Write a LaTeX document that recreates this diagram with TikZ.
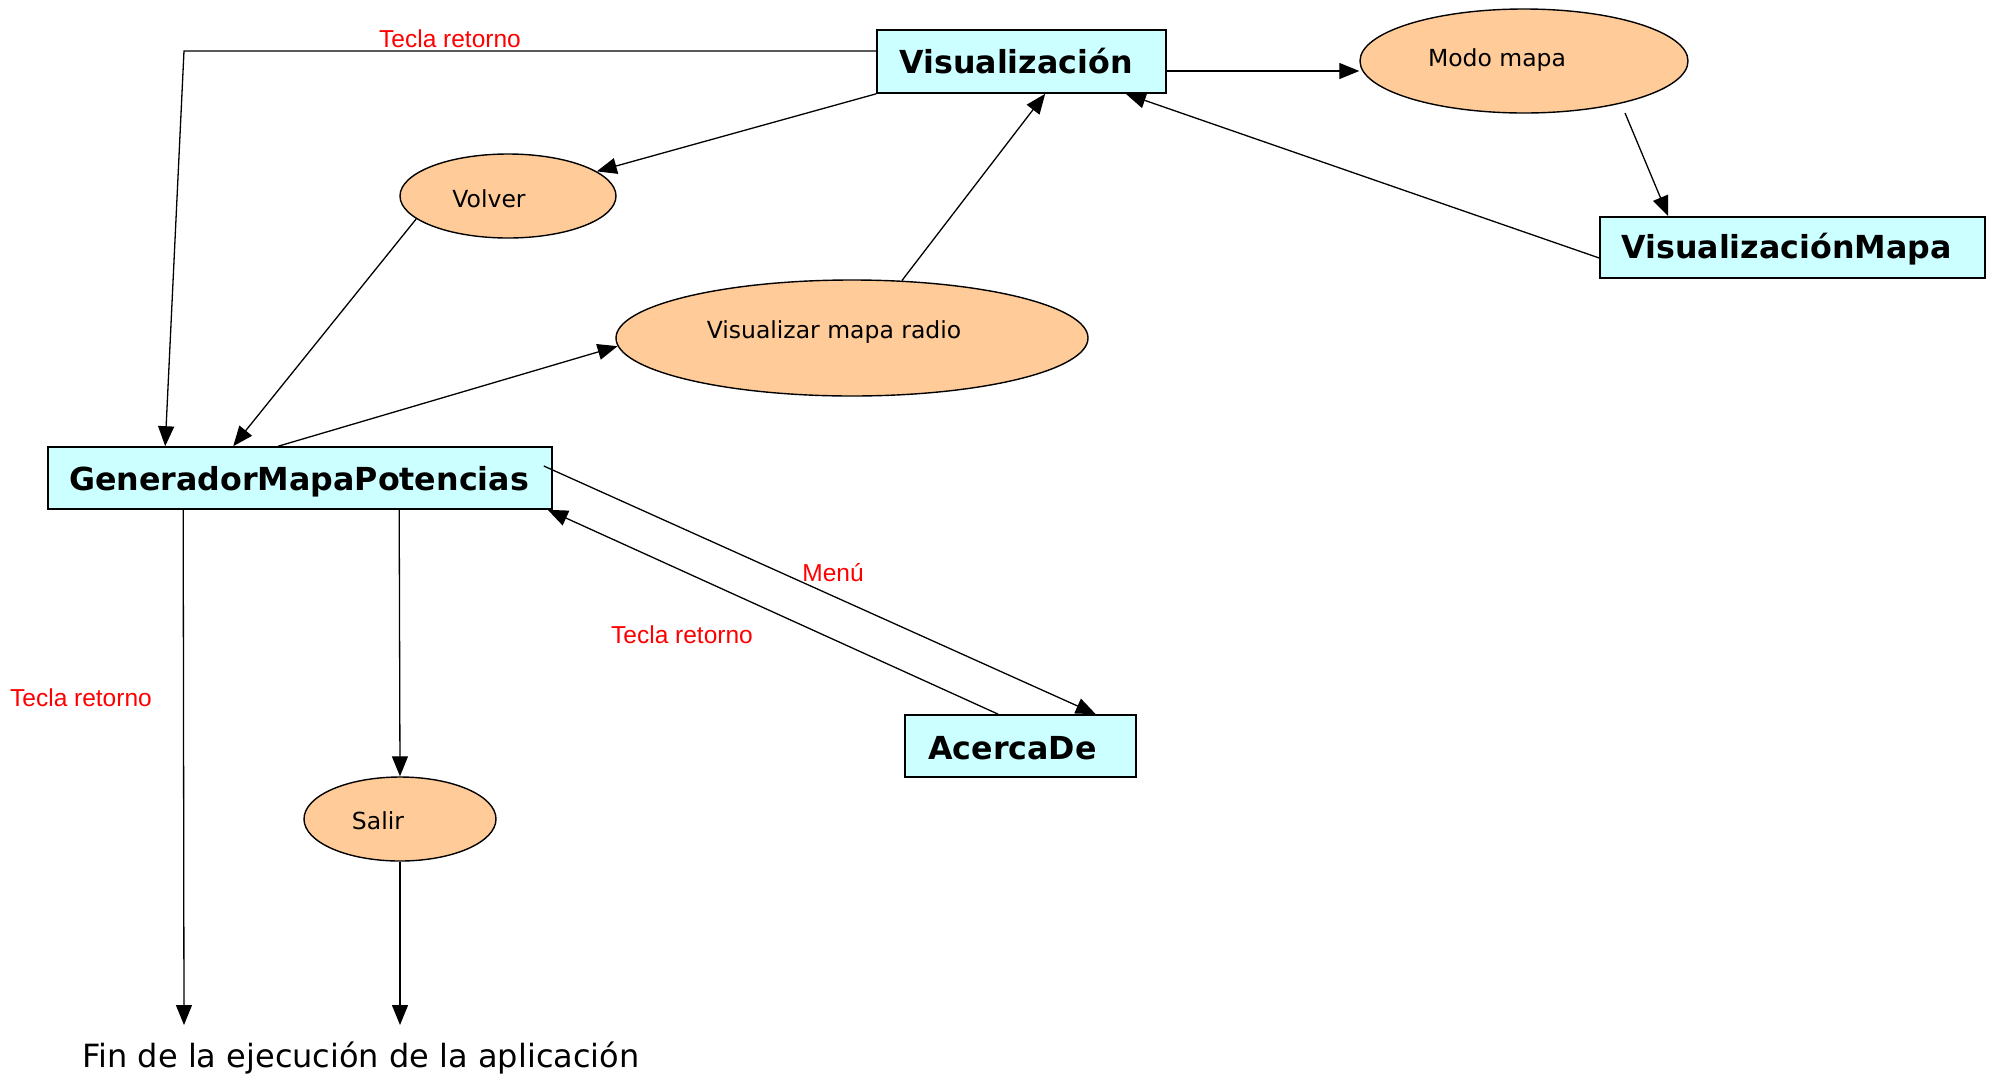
\documentclass[tikz,border=0pt]{standalone}
\usepackage{fontspec}
\setmainfont{DejaVu Sans}
\newfontfamily\labelfont{Liberation Sans}
\usetikzlibrary{arrows.meta,calc,shapes.geometric}
\definecolor{boxcyan}{HTML}{CCFFFF}
\definecolor{actpeach}{HTML}{FFCC99}
\begin{document}
\begin{tikzpicture}[x=1pt,y=-1pt,
  screen/.style={draw, line width=1.6pt, fill=boxcyan, inner sep=0pt,
    font=\fontsize{31.7}{38}\selectfont\bfseries},
  action/.style={ellipse, draw, line width=1.4pt, fill=actpeach, inner sep=0pt},
  acttext/.style={font=\fontsize{23.5}{28}\selectfont, inner sep=0pt},
  flow/.style={line width=1.3pt, -{Triangle[length=20pt,width=16pt]}},
  key/.style={text=red, inner sep=0pt, font=\labelfont\fontsize{24.5}{29}\selectfont}]
\useasboundingbox (0,0) rectangle (1991,1077);

% screens (titles sit a little left of centre; struts lower some of them)
\node[screen, minimum width=289pt, minimum height=63pt] (vis) at (1021.5,61.5) {Visualización\hspace*{11pt}};
\node[screen, minimum width=385pt, minimum height=61pt] (vmap) at (1792.5,247.5) {\rule{0pt}{29pt}VisualizaciónMapa\hspace*{12pt}};
\node[screen, minimum width=504pt, minimum height=62pt] (gen) at (300,478) {\rule{0pt}{32pt}GeneradorMapaPotencias\hspace*{2pt}};
\node[screen, minimum width=231pt, minimum height=62pt] (acerca) at (1020.5,746) {\rule{0pt}{26.5pt}AcercaDe\hspace*{16pt}};

% actions
\node[action, minimum width=328pt, minimum height=104pt] (modo) at (1524,61) {};
\node[acttext] (modo-t) at (1497,60) {Modo mapa};
\node[action, minimum width=216pt, minimum height=84pt] (volver) at (508,196) {};
\node[acttext] (volver-t) at (489,199) {Volver};
\node[action, minimum width=472pt, minimum height=116pt] (radio) at (852,338) {};
\node[acttext] (radio-t) at (834,332.5) {Visualizar mapa radio};
\node[action, minimum width=192pt, minimum height=84pt] (salir) at (400,819) {};
\node[acttext] (salir-t) at (378,821) {Salir};

% end of application
\node[inner sep=0pt, font=\fontsize{32}{38}\selectfont] (fin) at (361,1058.5) {Fin de la ejecución de la aplicación};
\coordinate (corner) at (184,51);
\coordinate (finA) at (184,1025);
\coordinate (finB) at (400,1025);

% transitions
\draw[flow] ([yshift=10.5pt]vis.west) -- (corner) -- ([xshift=118pt]gen.north west);
\draw[flow] (vis.south west) -- (volver);
\draw[flow] (volver.194) -- ([xshift=186pt]gen.north west);
\draw[flow] ([xshift=231pt]gen.north west) -- (radio.182);
\draw[flow] (radio.49) -- ([xshift=169pt]vis.south west);
\draw[flow] ([yshift=-9.5pt]vis.east) -- ([yshift=-9.5pt]vis.east -| modo.west);
\draw[flow] ($(modo)+(101,52)$) -- ([xshift=69pt]vmap.north west);
\draw[flow] ([yshift=-10.5pt]vmap.west) -- ([xshift=-41pt]vis.south east);
\draw[flow] ([shift={(-9pt,12pt)}]gen.east) -- ([xshift=-41pt]acerca.north east);
\draw[flow] ([xshift=94pt]acerca.north west) -- ([xshift=-5pt]gen.south east);
\draw[flow] ([xshift=136pt]gen.south west) -- (finA);
\draw[flow] ([xshift=352pt]gen.south west) -- (salir.north);
\draw[flow] (salir.south) -- (finB);

% key labels
\node[key] (k-top) at (450,39) {Tecla retorno};
\node[key] (k-menu) at (833,573) {Menú};
\node[key] (k-acerca) at (682,635) {Tecla retorno};
\node[key] (k-fin) at (81,698) {Tecla retorno};
\end{tikzpicture}
\end{document}
